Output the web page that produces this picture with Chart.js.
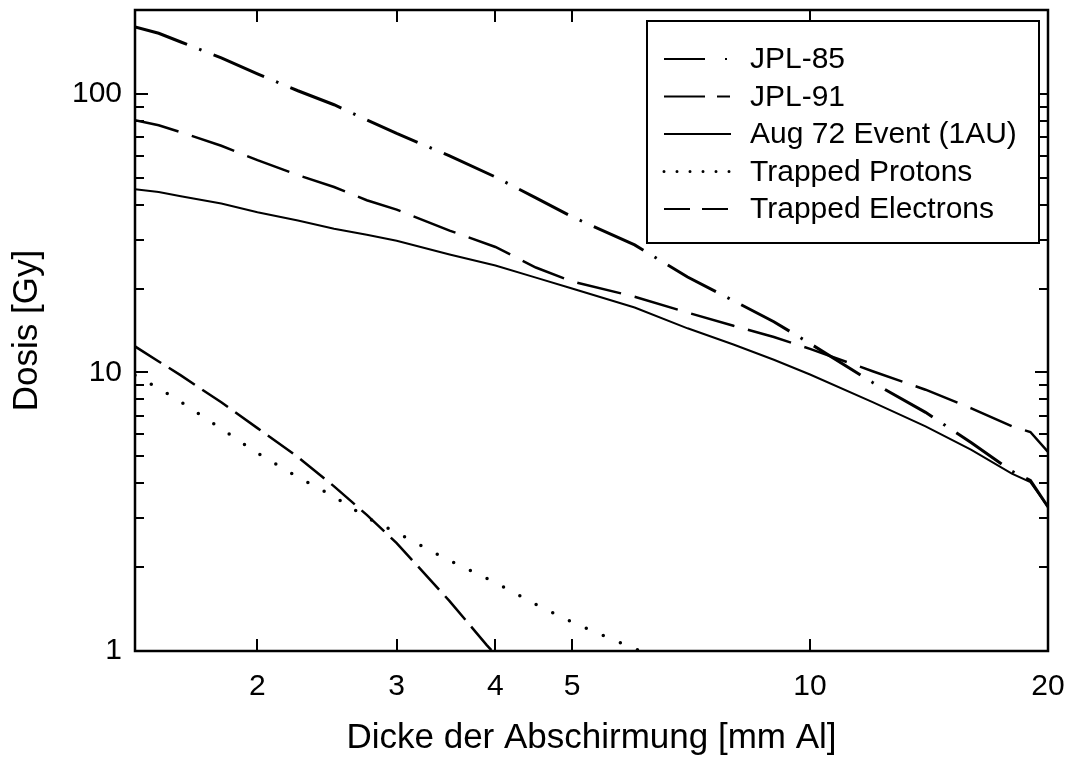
<!DOCTYPE html>
<html>
<head>
<meta charset="utf-8">
<script src="https://cdn.jsdelivr.net/npm/chart.js@4.4.1/dist/chart.umd.min.js"></script>
<style>
  html, body { margin: 0; padding: 0; background: #fff; }
</style>
</head>
<body>
<canvas id="doseChart" width="1068" height="762"></canvas>
<script>
// shielding thickness [mm Al] and dose [Gy]
const thickness = [1.4, 1.5, 1.6, 1.8, 2, 2.25, 2.5, 2.75, 3, 3.5, 4, 4.5, 5, 6, 7, 8, 9, 10, 12, 14, 16, 18, 19, 20];
const jpl85 = [174, 165, 153.5, 134.7, 118, 102.6, 91.4, 80.7, 72.1, 59.9, 50.3, 42.3, 36.2, 28.7, 22.0, 18.1, 15.2, 12.7, 9.2, 7.19, 5.59, 4.42, 4.10, 3.29];
const jpl91 = [80.5, 77.1, 72.8, 65.1, 57.8, 51.1, 46.3, 41.5, 38.4, 32.3, 28.2, 23.8, 21.2, 18.7, 16.4, 14.7, 13.4, 12.15, 10.1, 8.67, 7.43, 6.41, 6.11, 5.18];
const aug72 = [45.5, 44.4, 42.9, 40.4, 37.6, 35.1, 32.8, 31.2, 29.7, 26.5, 24.2, 21.9, 20.0, 17.1, 14.4, 12.6, 11.1, 9.83, 7.82, 6.40, 5.27, 4.33, 4.04, 3.29];

const protonX = [1.4, 1.5, 1.6, 1.8, 2, 2.25, 2.5, 2.75, 3, 3.5, 4, 4.5, 5, 5.5, 6, 6.2];
const protons = [9.76, 8.78, 7.83, 6.28, 5.13, 4.21, 3.58, 3.01, 2.66, 2.11, 1.76, 1.47, 1.27, 1.13, 1.02, 0.98];

const electronX = [1.4, 1.5, 1.6, 1.8, 2, 2.25, 2.5, 2.75, 3, 3.5, 3.9, 4];
const electrons = [12.4, 10.95, 9.76, 7.81, 6.31, 4.97, 3.90, 3.08, 2.44, 1.51, 1.05, 0.97];

const labels = ["JPL-85", "JPL-91", "Aug 72 Event (1AU)", "Trapped Protons", "Trapped Electrons"];
const xTicks = [2, 3, 4, 5, 10, 20];
const yTicks = [1, 10, 100];

const FONT = "'Liberation Sans', Arial, sans-serif";

function pts(xs, ys) {
  return xs.map((x, i) => ({ x: x, y: ys[i] }));
}

// legend sample dashes (differ a bit from the plotted ones)
const legendDash = [[41, 20, 2, 20], [41, 12, 13, 200], [], [0, 13], [26, 12]];

function noPad(s) {
  s.paddingTop = 0;
  s.paddingBottom = 0;
  s.paddingLeft = 0;
  s.paddingRight = 0;
}

const frameTicks = {
  id: "frameTicks",
  afterDatasetsDraw(chart) {
    const { ctx, chartArea: a, scales } = chart;
    const seg = (x1, y1, x2, y2) => {
      ctx.beginPath();
      ctx.moveTo(x1, y1);
      ctx.lineTo(x2, y2);
      ctx.stroke();
    };
    ctx.save();
    ctx.strokeStyle = "#000";
    ctx.lineWidth = 2;
    xTicks.forEach((v) => {
      const px = Math.round(scales.x.getPixelForValue(v));
      seg(px, a.bottom, px, a.bottom - 12);
      seg(px, a.top, px, a.top + 12);
    });
    for (let d = 1; d <= 100; d *= 10) {
      for (let m = 1; m <= 9; m++) {
        const v = m * d;
        if (v > scales.y.max) break;
        const py = Math.round(scales.y.getPixelForValue(v));
        const len = m === 1 ? 13 : 9;
        seg(a.left, py, a.left + len, py);
        seg(a.right, py, a.right - len, py);
      }
    }

    // legend box
    const bx = a.right - 401, by = a.top + 11, bw = 392, bh = 222;
    ctx.fillStyle = "#fff";
    ctx.fillRect(bx, by, bw, bh);
    ctx.lineWidth = 2;
    ctx.strokeRect(bx, by, bw, bh);
    ctx.font = "30px " + FONT;
    ctx.fillStyle = "#000";
    ctx.textBaseline = "middle";
    chart.data.datasets.forEach((ds, i) => {
      const y = by + 38 + i * 37.5;
      ctx.save();
      ctx.lineWidth = i === 3 ? 3 : 2;
      ctx.lineCap = i === 3 ? "round" : "butt";
      ctx.setLineDash(legendDash[i]);
      seg(bx + 17, y, bx + 84, y);
      ctx.restore();
      ctx.fillText(ds.label, bx + 103, y + 1);
    });

    // frame
    ctx.lineWidth = 2.5;
    ctx.setLineDash([]);
    ctx.strokeRect(a.left, a.top, a.right - a.left, a.bottom - a.top);
    ctx.restore();
  },
};

new Chart(document.getElementById("doseChart"), {
  type: "line",
  data: {
    datasets: [
      {
        label: labels[0],
        data: pts(thickness, jpl85),
        borderColor: "#000",
        borderWidth: 3,
        borderDash: [55, 13, 2.5, 13],
      },
      {
        label: labels[1],
        data: pts(thickness, jpl91),
        borderColor: "#000",
        borderWidth: 2.5,
        borderDash: [45, 14],
      },
      {
        label: labels[2],
        data: pts(thickness, aug72),
        borderColor: "#000",
        borderWidth: 2,
      },
      {
        label: labels[3],
        data: pts(protonX, protons),
        borderColor: "#000",
        borderWidth: 3.5,
        borderCapStyle: "round",
        borderDash: [0, 18.5],
      },
      {
        label: labels[4],
        data: pts(electronX, electrons),
        borderColor: "#000",
        borderWidth: 2.5,
        borderDash: [31, 9],
      },
    ],
  },
  options: {
    responsive: false,
    animation: false,
    layout: { padding: { top: 10, right: 20, left: 0, bottom: 0 } },
    elements: { point: { radius: 0 }, line: { tension: 0, fill: false } },
    plugins: {
      legend: { display: false },
      tooltip: { enabled: false },
    },
    scales: {
      x: {
        type: "logarithmic",
        min: 1.4,
        max: 20,
        grid: { display: false, drawTicks: false },
        border: { display: false },
        afterBuildTicks: (s) => { s.ticks = xTicks.map((v) => ({ value: v })); },
        afterFit: (s) => { s.height = 111; noPad(s); },
        ticks: {
          color: "#000",
          padding: 18,
          maxRotation: 0,
          autoSkip: false,
          font: { family: FONT, size: 30 },
          callback: (v) => String(v),
        },
        title: {
          display: true,
          text: "Dicke der Abschirmung [mm Al]",
          color: "#000",
          font: { family: FONT, size: 35 },
          padding: { top: 0, bottom: 3 },
        },
      },
      y: {
        type: "logarithmic",
        min: 1,
        max: 200,
        grid: { display: false, drawTicks: false },
        border: { display: false },
        afterBuildTicks: (s) => { s.ticks = yTicks.map((v) => ({ value: v })); },
        afterFit: (s) => { s.width = 135; noPad(s); },
        ticks: {
          color: "#000",
          padding: 13,
          autoSkip: false,
          font: { family: FONT, size: 30 },
          callback: (v) => String(v),
        },
        title: {
          display: true,
          text: "Dosis [Gy]",
          color: "#000",
          font: { family: FONT, size: 35 },
          padding: { top: 6, bottom: 0 },
        },
      },
    },
  },
  plugins: [frameTicks],
});
</script>
</body>
</html>
